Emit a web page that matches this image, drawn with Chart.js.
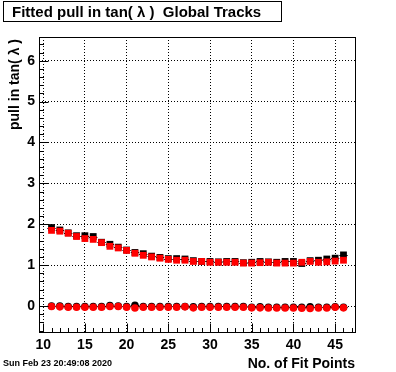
<!DOCTYPE html>
<html><head><meta charset="utf-8">
<script src="https://cdn.jsdelivr.net/npm/chart.js@4.4.0/dist/chart.umd.min.js"></script>
<style>html,body{margin:0;padding:0;background:#fff;}</style>
</head><body>
<canvas id="c" width="396" height="372"></canvas>
<script>
// ---- data ----
const fitPoints = [11,12,13,14,15,16,17,18,19,20,21,22,23,24,25,26,27,28,29,30,31,32,33,34,35,36,37,38,39,40,41,42,43,44,45,46];
const pullWidthRed = [1.85,1.83,1.78,1.70,1.65,1.63,1.55,1.46,1.42,1.36,1.29,1.24,1.20,1.17,1.14,1.12,1.12,1.09,1.09,1.07,1.07,1.07,1.07,1.05,1.05,1.06,1.07,1.05,1.05,1.05,1.07,1.09,1.07,1.08,1.10,1.12];
const pullWidthBlack = [1.92,1.86,1.79,1.72,1.72,1.70,1.56,1.51,1.44,1.37,1.31,1.28,1.22,1.19,1.16,1.16,1.15,1.11,1.09,1.09,1.08,1.09,1.09,1.06,1.07,1.09,1.08,1.07,1.09,1.09,1.04,1.11,1.12,1.15,1.17,1.25];
const pullMeanRed = [-0.01,-0.02,-0.03,-0.03,-0.03,-0.03,-0.03,-0.01,-0.01,-0.03,-0.05,-0.03,-0.03,-0.03,-0.03,-0.03,-0.02,-0.045,-0.03,-0.03,-0.03,-0.03,-0.03,-0.03,-0.045,-0.045,-0.05,-0.05,-0.05,-0.05,-0.055,-0.06,-0.05,-0.05,-0.03,-0.045];
const pullMeanBlack = [0.0,0.0,-0.01,-0.01,-0.01,-0.01,-0.01,0.01,0.0,-0.01,0.02,-0.01,-0.01,-0.01,-0.01,-0.01,-0.01,-0.02,-0.01,-0.01,-0.01,-0.01,-0.01,-0.01,-0.03,-0.02,-0.03,-0.03,-0.03,-0.03,-0.03,-0.02,-0.03,-0.03,-0.02,-0.03];
const xTickLabels = [10,15,20,25,30,35,40,45];
const yTickLabels = [0,1,2,3,4,5,6];
const titleText = 'Fitted pull in tan( \u03BB )  Global Tracks';
const yTitle = 'pull in tan( \u03BB )';
const xTitle = 'No. of Fit Points';
const dateText = 'Sun Feb 23 20:49:08 2020';

const FONT = '"Liberation Sans", Arial, Helvetica, sans-serif';
const pts = (ys) => fitPoints.map((x, i) => ({x: x, y: ys[i]}));

const rootDecor = {
  id: 'rootDecor',
  beforeDatasetsDraw(chart) {
    const ctx = chart.ctx, xs = chart.scales.x, ys = chart.scales.y;
    ctx.save();
    ctx.strokeStyle = '#000';
    ctx.lineWidth = 1;
    [pullWidthBlack, pullMeanBlack].forEach(arr => {
      fitPoints.forEach((x, i) => {
        const y = Math.round(ys.getPixelForValue(arr[i])) + 0.5;
        ctx.beginPath();
        ctx.moveTo(xs.getPixelForValue(x - 0.5), y);
        ctx.lineTo(xs.getPixelForValue(x + 0.5), y);
        ctx.stroke();
      });
    });
    ctx.restore();
  },
  afterDraw(chart) {
    const ctx = chart.ctx, a = chart.chartArea, xs = chart.scales.x, ys = chart.scales.y;
    ctx.save();
    ctx.strokeStyle = '#000';
    ctx.fillStyle = '#000';
    ctx.lineWidth = 1;
    // frame
    ctx.strokeRect(Math.round(a.left) + 0.5, Math.round(a.top) + 0.5, Math.round(a.right - a.left) - 1, Math.round(a.bottom - a.top) - 1);
    // x ticks (inside, pointing up)
    const bottom = Math.round(a.bottom) - 0.5;
    for (let v = 10; v <= 47; v++) {
      const px = Math.round(xs.getPixelForValue(v)) + 0.5;
      const len = (v % 5 === 0) ? 9 : 4.5;
      ctx.beginPath(); ctx.moveTo(px, bottom); ctx.lineTo(px, bottom - len); ctx.stroke();
    }
    // y ticks (inside, pointing right)
    const left = Math.round(a.left) + 0.5;
    for (let k = -3; k <= 32; k++) {
      const v = k * 0.2;
      const py = Math.round(ys.getPixelForValue(v)) + 0.5;
      if (py < a.top || py > a.bottom) continue;
      const len = (k % 5 === 0) ? 9 : 4.5;
      ctx.beginPath(); ctx.moveTo(left, py); ctx.lineTo(left + len, py); ctx.stroke();
    }
    // title box
    ctx.fillStyle = '#fff';
    ctx.fillRect(3, 1, 279, 21);
    ctx.strokeRect(3.5, 1.5, 278, 20);
    ctx.fillStyle = '#000';
    ctx.font = 'bold 15px ' + FONT;
    ctx.textBaseline = 'alphabetic';
    ctx.textAlign = 'left';
    ctx.fillText(titleText, 12, 17);
    // x title
    ctx.font = 'bold 14px ' + FONT;
    ctx.textAlign = 'right';
    ctx.fillText(xTitle, 355, 368);
    // y title (rotated)
    ctx.save();
    ctx.translate(19, 39);
    ctx.rotate(-Math.PI / 2);
    ctx.textAlign = 'right';
    ctx.fillText(yTitle, 0, 0);
    ctx.restore();
    // date
    ctx.font = 'bold 9px ' + FONT;
    ctx.textAlign = 'left';
    ctx.fillText(dateText, 3, 366);
    ctx.restore();
  }
};

new Chart(document.getElementById('c'), {
  type: 'scatter',
  data: {
    datasets: [
      {label: 'width fit', data: pts(pullWidthRed), pointStyle: 'rect', pointRadius: 4.8, backgroundColor: '#ff0000', borderColor: '#ff0000', borderWidth: 0},
      {label: 'mean fit', data: pts(pullMeanRed), pointStyle: 'circle', pointRadius: 3.8, backgroundColor: '#ff0000', borderColor: '#ff0000', borderWidth: 0},
      {label: 'width', data: pts(pullWidthBlack), pointStyle: 'rect', pointRadius: 4.8, backgroundColor: '#000', borderColor: '#000', borderWidth: 0},
      {label: 'mean', data: pts(pullMeanBlack), pointStyle: 'circle', pointRadius: 3.8, backgroundColor: '#000', borderColor: '#000', borderWidth: 0}
    ]
  },
  options: {
    responsive: false,
    animation: false,
    devicePixelRatio: 1,
    layout: {padding: {top: 37, right: 40, left: 0, bottom: 0}},
    plugins: {legend: {display: false}, tooltip: {enabled: false}, title: {display: false}},
    scales: {
      x: {
        type: 'linear', min: 9.5, max: 47.5,
        afterBuildTicks: s => { s.ticks = xTickLabels.map(v => ({value: v})); },
        afterFit: s => { s.height = 39; },
        grid: {color: '#000', lineWidth: 1, drawTicks: false},
        border: {display: false, dash: [1, 2]},
        ticks: {color: '#000', font: {family: FONT, weight: 'bold', size: 14}, padding: 4, maxRotation: 0, autoSkip: false}
      },
      y: {
        type: 'linear', min: -0.66, max: 6.58,
        afterBuildTicks: s => { s.ticks = yTickLabels.map(v => ({value: v})); },
        afterFit: s => { s.width = 39; },
        grid: {color: '#000', lineWidth: 1, drawTicks: false},
        border: {display: false, dash: [1, 2]},
        ticks: {color: '#000', font: {family: FONT, weight: 'bold', size: 14}, padding: 4, autoSkip: false}
      }
    }
  },
  plugins: [rootDecor]
});
</script>
</body></html>
